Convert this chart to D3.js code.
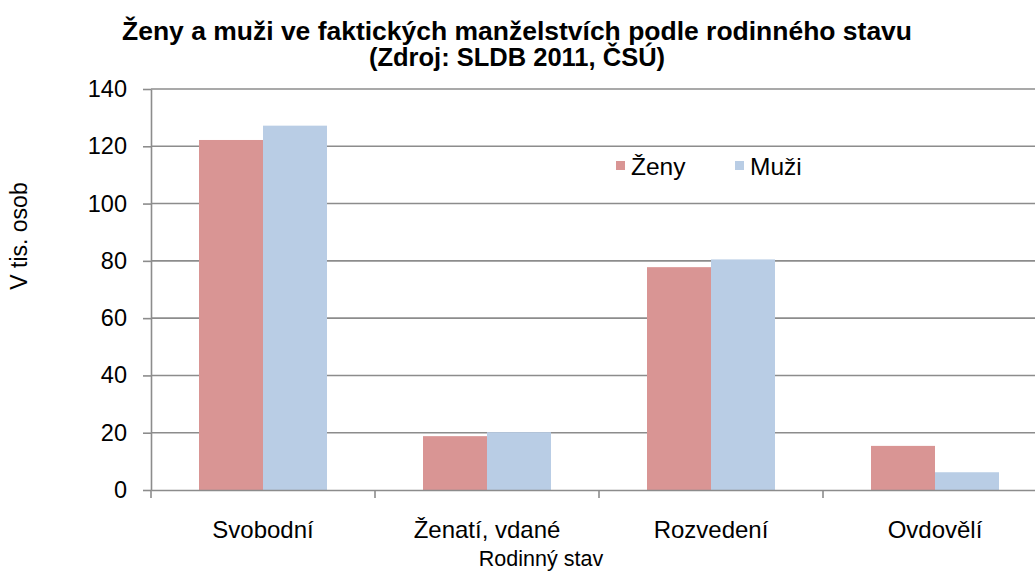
<!DOCTYPE html>
<html><head><meta charset="utf-8">
<script src="https://cdn.jsdelivr.net/npm/d3@7"></script>
<style>body{margin:0;background:#fff}svg{display:block}text{font-family:"Liberation Sans",Arial,sans-serif;fill:#000}</style>
</head><body><svg id="c" width="1035" height="571"></svg>
<script>
const categories = ["Svobodní", "Ženatí, vdané", "Rozvedení", "Ovdovělí"];
const seriesNames = ["Ženy", "Muži"];
const zeny = [122.2, 18.8, 77.8, 15.4];
const muzi = [127.2, 20.2, 80.5, 6.2];
const yTicks = [0, 20, 40, 60, 80, 100, 120, 140];
const colors = ["#d99594", "#b9cde5"];

(function () {
const svg = d3.select("#c");
const pLeft = 151, pRight = 1047, pTop = 89, pBottom = 490;
const x = d3.scaleBand().domain(categories).range([pLeft, pRight]);
const xs = d3.scaleBand().domain(seriesNames).range([0, x.bandwidth()]).paddingOuter(0.75);
const y = d3.scaleLinear().domain([0, 140]).range([pBottom, pTop]);
const grid = "#8c8c8c";

svg.append("g").selectAll("line").data(yTicks.filter(d => d > 0)).join("line")
  .attr("x1", pLeft).attr("x2", pRight).attr("y1", d => y(d)).attr("y2", d => y(d))
  .attr("stroke", grid).attr("stroke-width", 1.6);

const data = [zeny, muzi];
seriesNames.forEach((s, i) => {
  svg.append("g").selectAll("rect").data(categories).join("rect")
    .attr("x", c => x(c) + xs(s)).attr("width", xs.bandwidth())
    .attr("y", (c, j) => y(data[i][j])).attr("height", (c, j) => y(0) - y(data[i][j]))
    .attr("fill", colors[i]);
});

const ya = svg.append("g").attr("transform", `translate(${pLeft},0)`)
  .call(d3.axisLeft(y).tickValues(yTicks).tickSize(8).tickPadding(16).tickSizeOuter(0));
ya.select(".domain").attr("stroke", grid).attr("stroke-width", 1.6);
ya.selectAll(".tick line").attr("stroke", grid).attr("stroke-width", 1.6);
ya.selectAll(".tick text").style("font-size", "23.5px").attr("fill", "#000");

const xa = svg.append("g").attr("transform", `translate(0,${pBottom})`)
  .call(d3.axisBottom(x).tickSize(0).tickPadding(31));
xa.select(".domain").attr("stroke", grid).attr("stroke-width", 1.6);
xa.selectAll(".tick text").style("font-size", "24px").attr("fill", "#000");
const bounds = [pLeft, ...categories.map(c => x(c) + x.bandwidth())];
svg.append("g").selectAll("line").data(bounds).join("line")
  .attr("x1", d => d).attr("x2", d => d).attr("y1", pBottom).attr("y2", pBottom + 8)
  .attr("stroke", grid).attr("stroke-width", 1.6);

svg.append("text").attr("x", 517).attr("y", 40).attr("text-anchor", "middle")
  .style("font-size", "25.5px").style("font-weight", "bold")
  .attr("textLength", 790).attr("lengthAdjust", "spacingAndGlyphs")
  .text("Ženy a muži ve faktických  manželstvích  podle rodinného stavu");
svg.append("text").attr("x", 517).attr("y", 66).attr("text-anchor", "middle")
  .style("font-size", "25.5px").style("font-weight", "bold")
  .text("(Zdroj: SLDB 2011, ČSÚ)");

svg.append("text").attr("transform", "translate(27,236) rotate(-90)").attr("text-anchor", "middle")
  .style("font-size", "23px").text("V tis. osob");
svg.append("text").attr("x", 541).attr("y", 566).attr("text-anchor", "middle")
  .style("font-size", "21.5px").text("Rodinný stav");

const lx = [616, 735];
seriesNames.forEach((s, i) => {
  svg.append("rect").attr("x", lx[i]).attr("y", 161).attr("width", 9).attr("height", 9).attr("fill", colors[i]);
  svg.append("text").attr("x", lx[i] + 15).attr("y", 175).style("font-size", "24.5px").text(s);
});
})();
</script></body></html>
